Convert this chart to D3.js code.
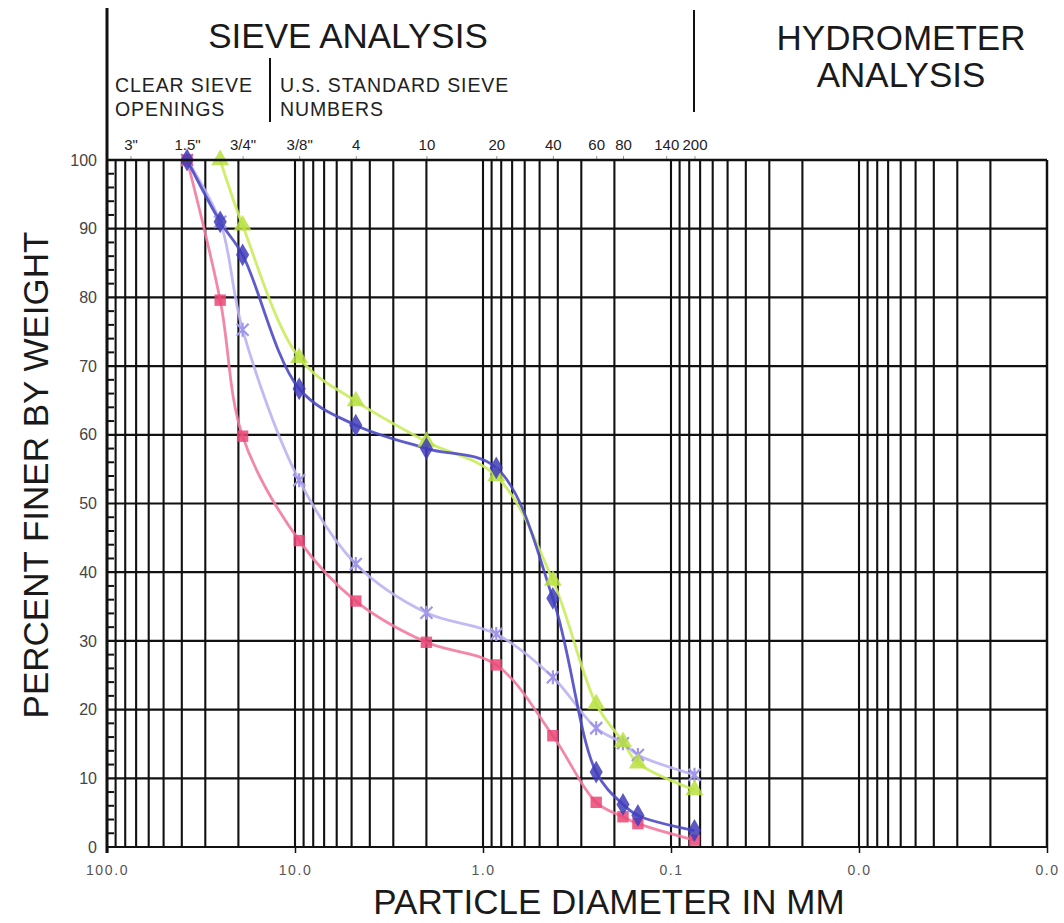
<!DOCTYPE html>
<html>
<head>
<meta charset="utf-8">
<script src="https://cdn.jsdelivr.net/npm/d3@7"></script>
<style>
  html, body { margin: 0; padding: 0; background: #fff; }
  svg { display: block; font-family: "Liberation Sans", Arial, sans-serif; }
</style>
</head>
<body>
<div id="chart"></div>
<script>
// sieve labels along the top (size in mm)
const sieveLabels = ["3\"", "1.5\"", "3/4\"", "3/8\"", "4", "10", "20", "40", "60", "80", "140", "200"]
const sieveSizes = [75, 37.5, 19, 9.5, 4.75, 2.0, 0.85, 0.425, 0.25, 0.18, 0.106, 0.075]

// particle diameters of the test points (mm)
const diameters = [37.5, 25, 19, 9.5, 4.75, 2.0, 0.85, 0.425, 0.25, 0.18, 0.15, 0.075]

const pinkSeries = [100, 79.6, 59.8, 44.6, 35.8, 29.8, 26.5, 16.2, 6.5, 4.4, 3.4, 1.0]
const blueSeries = [100, 91, 86.2, 66.7, 61.4, 58, 55.2, 36.2, 10.9, 6.2, 4.6, 2.4]
const lavenderSeries = [100, 91, 75.3, 53.4, 41.2, 34.1, 31, 24.7, 17.3, 15.1, 13.4, 10.5]
const greenSeries = [null, 100, 90.5, 71.2, 64.9, 59, 54, 38.8, 20.8, 15.3, 12.2, 8.3]

const xTicks = [100, 10, 1, 0.1, 0.01, 0.001]
const yTicks = [0, 10, 20, 30, 40, 50, 60, 70, 80, 90, 100]

const width = 1064, height = 923
const margin = { top: 160, right: 17, bottom: 76, left: 107 }

const svg = d3.select("#chart").append("svg")
  .attr("width", width).attr("height", height)

const x = d3.scaleLog().domain([100, 0.001]).range([margin.left, width - margin.right])
const y = d3.scaleLinear().domain([0, 100]).range([height - margin.bottom, margin.top])

const ink = "#111"
const font = "Liberation Sans, Arial, sans-serif"

// vertical log grid: 1..9 in every decade
const vGrid = d3.range(-3, 2).flatMap(e => d3.range(1, 10).map(d => +(d * Math.pow(10, e)).toPrecision(3)))
svg.append("g")
  .selectAll("line")
  .data(vGrid.concat([100]))
  .join("line")
  .attr("x1", d => x(d)).attr("x2", d => x(d))
  .attr("y1", y(100)).attr("y2", y(0))
  .attr("stroke", ink).attr("stroke-width", 2.1)

// horizontal grid
svg.append("g")
  .selectAll("line")
  .data(yTicks)
  .join("line")
  .attr("x1", x(100)).attr("x2", x(0.001))
  .attr("y1", d => y(d)).attr("y2", d => y(d))
  .attr("stroke", ink).attr("stroke-width", 2.2)

// minor ticks on the left edge, every 2 %
svg.append("g")
  .selectAll("line")
  .data(d3.range(0, 100, 2).filter(d => d % 10 !== 0))
  .join("line")
  .attr("x1", x(100)).attr("x2", x(100) + 7)
  .attr("y1", d => y(d)).attr("y2", d => y(d))
  .attr("stroke", ink).attr("stroke-width", 2)

// left border, thicker, running up into the header
svg.append("line")
  .attr("x1", x(100)).attr("x2", x(100))
  .attr("y1", 8).attr("y2", y(0) + 6)
  .attr("stroke", ink).attr("stroke-width", 3)

// header dividers
svg.append("line")
  .attr("x1", 270).attr("x2", 270).attr("y1", 58).attr("y2", 122)
  .attr("stroke", ink).attr("stroke-width", 2)
svg.append("line")
  .attr("x1", 694).attr("x2", 694).attr("y1", 10).attr("y2", 112)
  .attr("stroke", ink).attr("stroke-width", 2)

// y axis labels
const yAxis = d3.axisLeft(y).tickValues(yTicks).tickSize(0).tickPadding(10)
svg.append("g")
  .attr("transform", `translate(${x(100)},0)`)
  .call(yAxis)
  .call(g => g.select(".domain").remove())
  .selectAll("text")
  .attr("font-size", 16).attr("fill", "#444")
  .attr("font-family", font)

// bottom axis
const xAxis = d3.axisBottom(x).tickValues(xTicks).tickSize(6).tickPadding(12)
  .tickFormat(d => d.toFixed(1))
svg.append("g")
  .attr("transform", `translate(0,${y(0)})`)
  .call(xAxis)
  .call(g => g.select(".domain").remove())
  .call(g => g.selectAll("line").attr("stroke", ink).attr("stroke-width", 1.5))
  .selectAll("text")
  .attr("font-size", 14).attr("fill", "#555")
  .attr("letter-spacing", 1.6)
  .attr("font-family", font)

// top sieve labels
const topAxis = d3.axisTop(x).tickValues(sieveSizes).tickSize(4).tickPadding(6)
  .tickFormat((d, i) => sieveLabels[i])
svg.append("g")
  .attr("transform", `translate(0,${y(100)})`)
  .call(topAxis)
  .call(g => g.select(".domain").remove())
  .call(g => g.selectAll("line").attr("stroke", "#999").attr("stroke-width", 1))
  .selectAll("text")
  .attr("font-size", 15).attr("fill", "#222")
  .attr("font-family", font)

// header texts
const big = 35, mid = 19.5
svg.append("text").attr("x", 348).attr("y", 48).attr("text-anchor", "middle")
  .attr("font-size", big).attr("fill", "#1a1a1a").text("SIEVE ANALYSIS")
svg.append("text").attr("x", 901).attr("y", 50).attr("text-anchor", "middle")
  .attr("font-size", big).attr("fill", "#1a1a1a").text("HYDROMETER")
svg.append("text").attr("x", 901).attr("y", 87).attr("text-anchor", "middle")
  .attr("font-size", big).attr("fill", "#1a1a1a").text("ANALYSIS")
const sub = [
  { x: 115, y: 92, t: "CLEAR SIEVE" },
  { x: 115, y: 116, t: "OPENINGS" },
  { x: 280, y: 92, t: "U.S. STANDARD SIEVE" },
  { x: 280, y: 116, t: "NUMBERS" }
]
svg.append("g").selectAll("text").data(sub).join("text")
  .attr("x", d => d.x).attr("y", d => d.y)
  .attr("font-size", mid).attr("letter-spacing", 0.9).attr("fill", "#222")
  .text(d => d.t)

// axis titles
svg.append("text").attr("x", 609).attr("y", 914).attr("text-anchor", "middle")
  .attr("font-size", big).attr("fill", "#1a1a1a").text("PARTICLE DIAMETER IN MM")
svg.append("text")
  .attr("transform", `translate(48,${475}) rotate(-90)`)
  .attr("text-anchor", "middle")
  .attr("font-size", big).attr("fill", "#1a1a1a").text("PERCENT FINER BY WEIGHT")

// series
const series = [
  { name: "lavender", values: lavenderSeries, line: "#bab3f2", mark: "#a097ea", symbol: "x" },
  { name: "pink", values: pinkSeries, line: "#f27aa0", mark: "#ea4775", symbol: d3.symbolSquare },
  { name: "green", values: greenSeries, line: "#c9ec5c", mark: "#b9e040", symbol: d3.symbolTriangle },
  { name: "blue", values: blueSeries, line: "#4d4ac4", mark: "#3f3cba", symbol: d3.symbolDiamond }
]

const line = d3.line()
  .defined(d => d.v != null)
  .x(d => x(d.d)).y(d => y(d.v))
  .curve(d3.curveCatmullRom.alpha(0.5))

series.forEach(s => {
  const pts = diameters.map((d, i) => ({ d, v: s.values[i] })).filter(p => p.v != null)
  svg.append("path")
    .datum(pts)
    .attr("d", line)
    .attr("fill", "none")
    .attr("stroke", s.line)
    .attr("stroke-width", 2.8)
    .attr("opacity", 0.9)
})

series.forEach(s => {
  const pts = diameters.map((d, i) => ({ d, v: s.values[i] })).filter(p => p.v != null)
  const g = svg.append("g")
  if (s.symbol === "x") {
    g.selectAll("path")
      .data(pts)
      .join("path")
      .attr("transform", p => `translate(${x(p.d)},${y(p.v)})`)
      .attr("d", "M-6,-6L6,6M-6,6L6,-6M0,-7L0,7")
      .attr("stroke", s.mark).attr("stroke-width", 2.2).attr("fill", "none")
  } else {
    const size = s.symbol === d3.symbolSquare ? 130 : (s.symbol === d3.symbolTriangle ? 140 : 150)
    const sym = d3.symbol().type(s.symbol).size(size)
    g.selectAll("path")
      .data(pts)
      .join("path")
      .attr("transform", p => `translate(${x(p.d)},${y(p.v)})`)
      .attr("d", sym)
      .attr("fill", s.mark)
      .attr("opacity", 0.85)
  }
})

// outer border (top and right)
svg.append("line")
  .attr("x1", x(100)).attr("x2", x(0.001)).attr("y1", y(100)).attr("y2", y(100))
  .attr("stroke", ink).attr("stroke-width", 2.4)
svg.append("line")
  .attr("x1", x(0.001)).attr("x2", x(0.001)).attr("y1", y(100)).attr("y2", y(0))
  .attr("stroke", ink).attr("stroke-width", 2.4)
</script>
</body>
</html>
